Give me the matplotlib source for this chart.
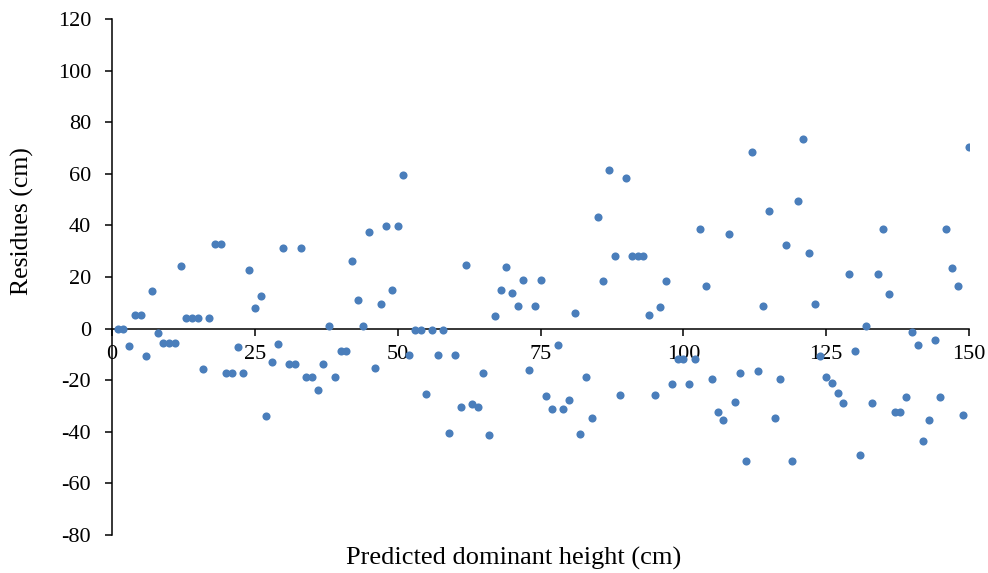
import matplotlib.pyplot as plt
import numpy as np

plt.rcParams['font.family'] = ['Liberation Serif', 'DejaVu Serif']
plt.rcParams['axes.unicode_minus'] = False

# predicted dominant height (cm), one point per unit
x = np.arange(1, 151)

# residues (cm)
residues = [
    0, 0, -6.6, 5.3, 5.3, -10.6, 14.4, -1.7, -5.7, -5.7,
    -5.7, 24.4, 4.3, 4.3, 4.3, -15.7, 4.3, 32.8, 32.8, -17.2,
    -17.2, -7.1, -17.2, 22.8, 7.8, 12.7, -33.9, -13.0, -5.8, 31.1,
    -13.9, -13.9, 31.1, -18.9, -18.9, -23.9, -13.9, 1.2, -18.9, -8.7,
    -8.7, 26.2, 11.2, 1.2, 37.6, -15.3, 9.7, 39.6, 14.8, 39.6,
    59.7, -10.2, -0.4, -0.4, -25.2, -0.4, -10.2, -0.4, -40.3, -10.2,
    -30.2, 24.6, -29.2, -30.2, -17.2, -41.4, 4.8, 14.8, 23.7, 13.7,
    8.7, 18.8, -16.2, 8.7, 18.8, -26.2, -31.1, -6.2, -31.1, -27.7,
    6.2, -40.7, -18.8, -34.6, 43.2, 18.3, 61.4, 28.3, -25.8, 58.4,
    28.3, 28.3, 28.3, 5.3, -25.8, 8.3, 18.3, -21.6, -11.7, -11.7,
    -21.6, -11.7, 38.5, 16.5, -19.4, -32.3, -35.4, 36.6, -28.4, -17.4,
    -51.4, 68.5, -16.5, 8.6, 45.5, -34.5, -19.5, 32.4, -51.5, 49.4,
    73.4, 29.4, 9.5, -10.6, -18.8, -20.9, -24.8, -28.8, 21.0, -8.7,
    -48.8, 1.2, -28.8, 21.0, 38.5, 13.5, -32.4, -32.4, -26.5, -1.4,
    -6.4, -43.4, -35.3, -4.4, -26.5, 38.6, 23.5, 16.6, -33.3, 70.3,
]

x_ticks = [0, 25, 50, 75, 100, 125, 150]
y_ticks = list(range(-80, 121, 20))

W, H = 988, 573
fig = plt.figure(figsize=(W / 100, H / 100), dpi=100)
ax = fig.add_axes([112 / W, (H - 535) / H, (969 - 112) / W, (535 - 19) / H])

ax.scatter(x, residues, s=34, color='#4A7EBB', zorder=3, linewidths=0)

ax.set_xlim(0, 150)
ax.set_ylim(-80, 120)
ax.set_xticks(x_ticks)
ax.set_yticks(y_ticks)

# x axis crosses at zero, only left and bottom spines
ax.spines['bottom'].set_position(('data', 0))
ax.spines['top'].set_visible(False)
ax.spines['right'].set_visible(False)
for s in ('left', 'bottom'):
    ax.spines[s].set_linewidth(1.1)
    ax.spines[s].set_zorder(2)

ax.tick_params(axis='y', direction='out', length=5, width=1.1, pad=10, labelsize=16)
ax.tick_params(axis='x', direction='out', length=5, width=1.1, pad=7, labelsize=16)

fig.text(513.5 / W, 1 - 558 / H, 'Predicted dominant height (cm)',
         ha='center', va='center', fontsize=19)
fig.text(22 / W, 1 - 221 / H, 'Residues (cm)', rotation=90,
         ha='center', va='center', fontsize=18.5)

plt.savefig('out.png', dpi=100)
